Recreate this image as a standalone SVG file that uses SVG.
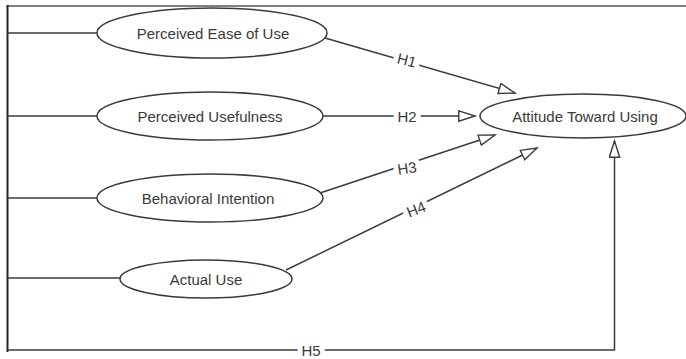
<svg xmlns="http://www.w3.org/2000/svg" width="686" height="359" viewBox="0 0 686 359">
<defs>
<style>
.node ellipse{fill:#fff;stroke:#3a3a3a;stroke-width:1.5}
.node text{font-family:"Liberation Sans",Arial,sans-serif;font-size:15px;fill:#3a3a3a;text-anchor:middle;dominant-baseline:central}
.ln{fill:none;stroke:#3a3a3a;stroke-width:1.5}
.lbl{font-family:"Liberation Sans",Arial,sans-serif;font-size:15px;fill:#3a3a3a;text-anchor:middle;dominant-baseline:central;stroke:#fff;stroke-width:10;paint-order:stroke;stroke-linejoin:round}
</style>
<marker id="tri" markerUnits="userSpaceOnUse" markerWidth="20" markerHeight="14" refX="17" refY="6" orient="auto">
<path d="M0.8,0.8 L17,6 L0.8,11.2 Z" fill="#fff" stroke="#3a3a3a" stroke-width="1.4"/>
</marker>
</defs>
<rect width="686" height="359" fill="#fff"/>
<g id="frame">
<line x1="7" y1="6" x2="686" y2="6" stroke="#808080" stroke-width="2"/>
<line x1="7.5" y1="5" x2="7.5" y2="352" stroke="#222" stroke-width="2"/>
</g>
<g id="connectors">
<line class="ln" x1="7" y1="33" x2="97" y2="33"/>
<line class="ln" x1="7" y1="116" x2="97" y2="116"/>
<line class="ln" x1="7" y1="198" x2="97" y2="198"/>
<line class="ln" x1="7" y1="278" x2="120" y2="278"/>
<line class="ln" x1="325" y1="38" x2="515" y2="93" marker-end="url(#tri)"/>
<line class="ln" x1="323" y1="116" x2="475" y2="116" marker-end="url(#tri)"/>
<line class="ln" x1="320" y1="193" x2="495" y2="135" marker-end="url(#tri)"/>
<line class="ln" x1="286" y1="270" x2="537" y2="148" marker-end="url(#tri)"/>
<polyline class="ln" points="7,350 614.5,350 614.5,141" stroke="#555" stroke-width="2" marker-end="url(#tri)"/>
<text class="lbl" transform="translate(407,60) rotate(14)">H1</text>
<text class="lbl" x="407" y="116">H2</text>
<text class="lbl" transform="translate(407,168) rotate(-8)">H3</text>
<text class="lbl" transform="translate(416,209) rotate(-22)">H4</text>
<text class="lbl" x="311" y="350">H5</text>
</g>
<g id="peou" class="node">
<ellipse cx="212" cy="33" rx="115" ry="25"/>
<text x="213" y="33">Perceived Ease of Use</text>
</g>
<g id="pu" class="node">
<ellipse cx="210" cy="116" rx="113" ry="24"/>
<text x="210" y="116">Perceived Usefulness</text>
</g>
<g id="bi" class="node">
<ellipse cx="210" cy="198" rx="113" ry="24"/>
<text x="208" y="198">Behavioral Intention</text>
</g>
<g id="au" class="node">
<ellipse cx="206" cy="279" rx="86" ry="19"/>
<text x="206" y="279">Actual Use</text>
</g>
<g id="atu" class="node">
<ellipse cx="583" cy="116" rx="103" ry="22"/>
<text x="585" y="116">Attitude Toward Using</text>
</g>
</svg>
